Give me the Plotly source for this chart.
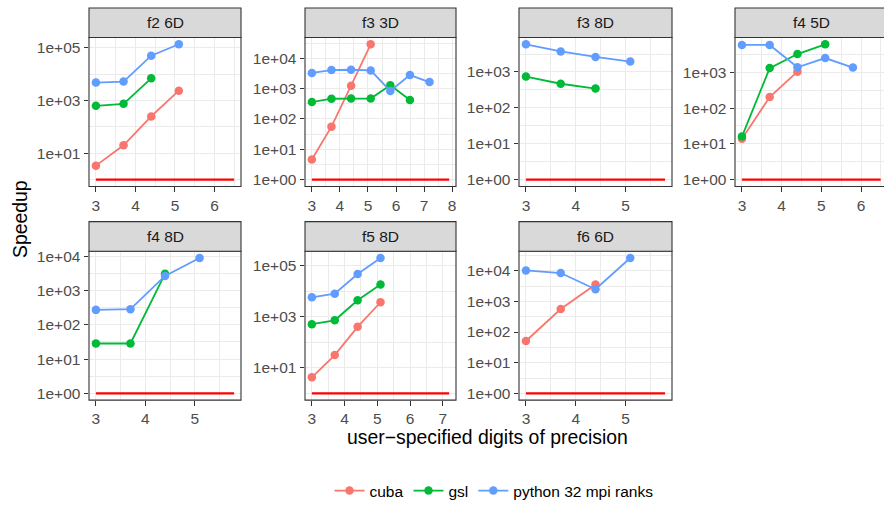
import math
import plotly.graph_objects as go

# ---------------- data ----------------
panels = ["f2 6D", "f3 3D", "f3 8D", "f4 5D", "f4 8D", "f5 8D", "f6 6D"]
x_steps = [3, 3.699, 4.398, 5.097, 5.796, 6.495, 7.194, 7.893]

cuba = {
    "f2 6D": [3.4, 20, 250, 2350],
    "f3 3D": [4.6, 56, 1250, 29000],
    "f3 8D": [],
    "f4 5D": [14, 204, 1040],
    "f4 8D": [],
    "f5 8D": [4.25, 31.6, 400, 3650],
    "f6 6D": [51, 565, 3550],
}
gsl = {
    "f2 6D": [630, 750, 6900],
    "f3 3D": [360, 465, 470, 470, 1300, 420],
    "f3 8D": [745, 470, 345],
    "f4 5D": [16, 1310, 3230, 6050],
    "f4 8D": [28.6, 28.6, 3080],
    "f5 8D": [505, 720, 4370, 18000],
    "f6 6D": [],
}
python32 = {
    "f2 6D": [4800, 5200, 50000, 135000],
    "f3 3D": [3300, 4100, 4200, 4000, 840, 2800, 1650],
    "f3 8D": [5900, 3730, 2620, 1950],
    "f4 5D": [5800, 5800, 1380, 2500, 1350],
    "f4 8D": [274, 287, 2680, 8950],
    "f5 8D": [5700, 7900, 46500, 196000],
    "f6 6D": [10200, 8400, 2500, 26000],
}
baseline_len = {"f2 6D": 6, "f3 3D": 8, "f3 8D": 5, "f4 5D": 6,
                "f4 8D": 5, "f5 8D": 7, "f6 6D": 5}
y_break_step = {"f2 6D": 2, "f3 3D": 1, "f3 8D": 1, "f4 5D": 1,
                "f4 8D": 1, "f5 8D": 2, "f6 6D": 1}

series = [("cuba", cuba, "#F8766D"), ("gsl", gsl, "#00BA38"),
          ("python 32 mpi ranks", python32, "#619CFF")]

# ---------------- layout ----------------
W, H = 884, 508
col_px = [(89, 241), (305, 456), (519, 672), (735, 887.6)]
row_px = [(35, 186), (251.7, 402.7)]
strip_h = 30
tick_font = dict(family="Liberation Sans, Arial, sans-serif", size=15.5, color="#4D4D4D")
grid_major = "#EBEBEB"
border = "#333333"

fig = go.Figure()
shapes = []
annotations = []
shown = set()
layout_axes = {}

for i, p in enumerate(panels):
    r, c = divmod(i, 4)
    k = i + 1
    xa, ya = f"x{k}", f"y{k}"

    # baseline
    nb = baseline_len[p]
    bx = x_steps[:nb]
    fig.add_trace(go.Scatter(x=bx, y=[1] * nb, mode="lines",
                             line=dict(color="#FF0000", width=2.2),
                             showlegend=False, hoverinfo="skip",
                             xaxis=xa, yaxis=ya))
    allx = list(bx)
    ally = [1]
    for name, d, col in series:
        v = d[p]
        if not v:
            continue
        xs = x_steps[:len(v)]
        allx += xs
        ally += v
        fig.add_trace(go.Scatter(
            x=xs, y=v, mode="lines+markers", name=name, legendgroup=name,
            showlegend=name not in shown,
            line=dict(color=col, width=1.8), marker=dict(color=col, size=8.5),
            xaxis=xa, yaxis=ya))
        shown.add(name)

    # x range (ggplot 5% expansion)
    xlo, xhi = min(allx), max(allx)
    ex = 0.05 * (xhi - xlo)
    xr = [xlo - ex, xhi + ex]
    x0p, x1p = col_px[c]
    if x1p > W:
        xr[1] = xr[0] + (xr[1] - xr[0]) * (W - x0p) / (x1p - x0p)
    x_major = [t for t in range(0, 12) if xr[0] <= t <= xr[1]]
    x_minor = [t + 0.5 for t in range(0, 12) if xr[0] <= t + 0.5 <= xr[1]]

    # y range (log)
    ly = [math.log10(v) for v in ally]
    ylo, yhi = min(ly), max(ly)
    ey = 0.05 * (yhi - ylo)
    yr = [ylo - ey, yhi + ey]
    st = y_break_step[p]
    y_major = [e for e in range(-2, 8) if yr[0] <= e <= yr[1] and (e - 1) % st == (0 if st == 2 else (e - 1) % st)]
    if st == 2:
        y_major = [e for e in range(-2, 8) if yr[0] <= e <= yr[1] and e % 2 == 1]
        y_minor = [e for e in range(-2, 8) if yr[0] <= e <= yr[1] and e % 2 == 0]
    else:
        y_major = [e for e in range(-2, 8) if yr[0] <= e <= yr[1]]
        y_minor = [e + 0.5 for e in range(-2, 8) if yr[0] <= e + 0.5 <= yr[1]]

    y0p, y1p = row_px[r]
    xdom = [x0p / W, min(x1p / W, 1.0)]
    ydom = [1 - y1p / H, 1 - y0p / H]

    axkey = "xaxis" if k == 1 else f"xaxis{k}"
    aykey = "yaxis" if k == 1 else f"yaxis{k}"
    layout_axes[axkey] = dict(
        domain=xdom, anchor=ya, range=xr,
        tickmode="array", tickvals=x_major, ticktext=[str(t) for t in x_major],
        ticks="outside", ticklen=4.5, tickwidth=1.1, tickcolor=border,
        showline=False, zeroline=False, showgrid=True,
        gridcolor=grid_major, gridwidth=1.4, tickfont=tick_font,
        minor=dict(tickmode="array", tickvals=x_minor, showgrid=True,
                   gridcolor=grid_major, gridwidth=0.7, ticks=""),
    )
    layout_axes[aykey] = dict(
        domain=ydom, anchor=xa, type="log", range=yr,
        tickmode="array", tickvals=[10 ** e for e in y_major],
        ticktext=[f"1e+{e:02d}" for e in y_major],
        ticks="outside", ticklen=4.5, tickwidth=1.1, tickcolor=border,
        showline=False, zeroline=False, showgrid=True,
        gridcolor=grid_major, gridwidth=1.4, tickfont=tick_font,
        minor=dict(tickmode="array", tickvals=[10 ** e for e in y_minor],
                   showgrid=True, gridcolor=grid_major, gridwidth=0.7, ticks=""),
    )

    # panel border
    shapes.append(dict(type="rect", xref="paper", yref="paper",
                       x0=x0p / W, x1=x1p / W, y0=1 - y1p / H, y1=1 - y0p / H,
                       line=dict(color=border, width=1.1), fillcolor="rgba(0,0,0,0)",
                       layer="above"))
    # strip
    shapes.append(dict(type="rect", xref="paper", yref="paper",
                       x0=x0p / W, x1=x1p / W, y0=1 - y0p / H, y1=1 - (y0p - strip_h) / H,
                       line=dict(color=border, width=1.1), fillcolor="#D9D9D9",
                       layer="above"))
    cx = (x0p + x1p) / 2 / W
    annotations.append(dict(text=p, xref="paper", yref="paper", x=cx,
                            y=1 - (y0p - strip_h / 2) / H, showarrow=False,
                            xanchor="center", yanchor="middle",
                            font=dict(family="Liberation Sans, Arial, sans-serif",
                                      size=15.5, color="#1A1A1A")))

annotations.append(dict(text="Speedup", xref="paper", yref="paper", x=20 / W,
                        y=1 - 219 / H, showarrow=False, textangle=-90,
                        xanchor="center", yanchor="middle",
                        font=dict(family="Liberation Sans, Arial, sans-serif",
                                  size=19.4, color="black")))
annotations.append(dict(text="user\u2212specified digits of precision", xref="paper",
                        yref="paper", x=487 / W, y=1 - 440 / H, showarrow=False,
                        xanchor="center", yanchor="middle",
                        font=dict(family="Liberation Sans, Arial, sans-serif",
                                  size=19.4, color="black")))

fig.update_layout(
    width=W, height=H, margin=dict(l=0, r=0, t=0, b=0),
    paper_bgcolor="white", plot_bgcolor="white",
    shapes=shapes, annotations=annotations,
    legend=dict(orientation="h", x=494 / W, xanchor="center",
                y=1 - 495 / H, yanchor="middle",
                font=dict(family="Liberation Sans, Arial, sans-serif",
                          size=15.5, color="black"),
                bgcolor="rgba(0,0,0,0)"),
    **layout_axes,
)

fig.write_html("out.html")
